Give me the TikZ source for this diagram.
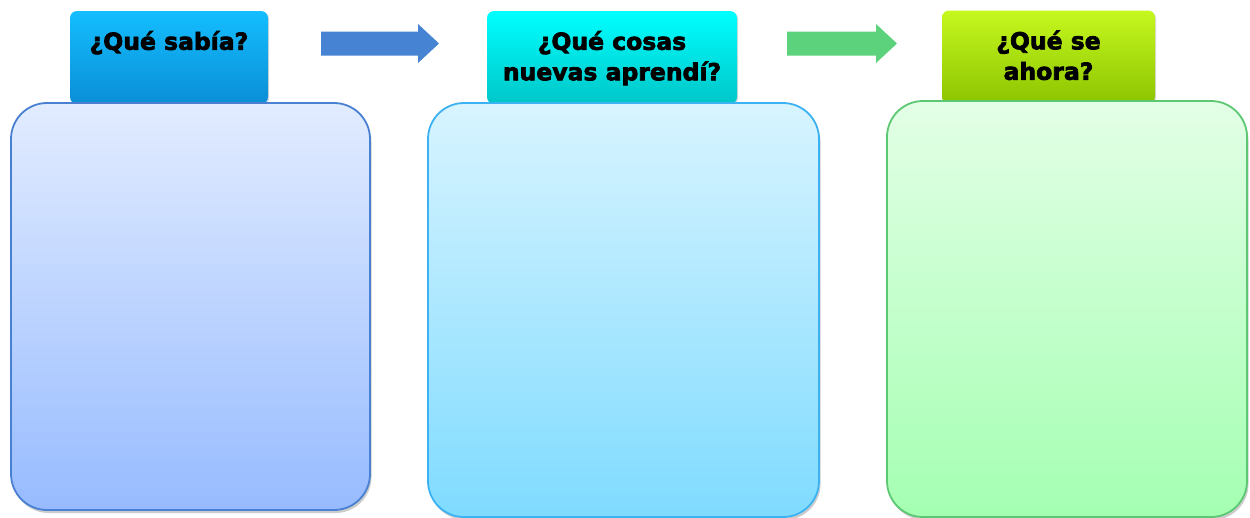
\documentclass[tikz,border=0pt]{standalone}
\usepackage{fontspec}
\setmainfont{DejaVu Sans}
\newfontfamily\heavyfont[FakeBold=2.8]{DejaVu Sans Bold}
\usetikzlibrary{positioning,shadows}
\definecolor{hdrAtop}{HTML}{14BEFF}
\definecolor{hdrAbot}{HTML}{0A8ED6}
\definecolor{hdrBtop}{HTML}{00FFFF}
\definecolor{hdrBbot}{HTML}{00C6C8}
\definecolor{hdrCtop}{HTML}{C6F81E}
\definecolor{hdrCbot}{HTML}{8CC400}
\definecolor{boxAtop}{HTML}{E2ECFF}
\definecolor{boxAbot}{HTML}{97BBFF}
\definecolor{boxAline}{HTML}{4A80D2}
\definecolor{boxBtop}{HTML}{D8F4FF}
\definecolor{boxBbot}{HTML}{7FDBFF}
\definecolor{boxBline}{HTML}{3DB2F2}
\definecolor{boxCtop}{HTML}{E3FFE6}
\definecolor{boxCbot}{HTML}{A4FFB2}
\definecolor{boxCline}{HTML}{5DC873}
\definecolor{arrA}{HTML}{4683D3}
\definecolor{arrB}{HTML}{5BD27B}
\tikzset{
hdr/.style={
  rectangle,
  rounded corners=7pt,
  minimum height=93pt,
  inner sep=0pt,
  drop shadow={shadow xshift=1pt,shadow yshift=-1pt,opacity=0.3}
  },
body/.style={
  rectangle,
  rounded corners=36pt,
  line width=1.8pt,
  inner sep=0pt,
  drop shadow={shadow xshift=1.5pt,shadow yshift=-3pt,opacity=0.4}
  },
hdrtext/.style={
  font=\heavyfont\fontsize{23.5}{30.5}\selectfont,
  align=center,
  inner sep=0pt,
  anchor=north
  },
blockarr/.style={
  insert path={++(0,-12) -- ++(#1-21,0) -- ++(0,-7.5) -- ++(21,19.5)
    -- ++(-21,19.5) -- ++(0,-7.5) -- ++(-#1+21,0) -- cycle}
  }
}

\begin{document}
\begin{tikzpicture}[x=1pt,y=-1pt]
\useasboundingbox (0,0) rectangle (1250,517);

% headers
\node[hdr,minimum width=198pt,top color=hdrAtop,bottom color=hdrAbot] (hdrA) at (169,57.5) {};
\node[hdr,minimum width=250pt,top color=hdrBtop,bottom color=hdrBbot] (hdrB) at (612,57.5) {};
\node[hdr,minimum width=213pt,top color=hdrCtop,bottom color=hdrCbot] (hdrC) at (1048.5,57) {};

\node[hdrtext,below=20pt of hdrA.north] (tA) {¿Qué sabía?};
\node[hdrtext,below=20pt of hdrB.north] (tB) {¿Qué cosas\\nuevas aprendí?};
\node[hdrtext,below=20pt of hdrC.north] (tC) {¿Qué se\\ahora?};

% bodies
\node[body,minimum width=359pt,minimum height=407pt,
  top color=boxAtop,bottom color=boxAbot,draw=boxAline] (boxA) at (190.5,306.5) {};
\node[body,minimum width=391pt,minimum height=414pt,
  top color=boxBtop,bottom color=boxBbot,draw=boxBline] (boxB) at (623.5,310) {};
\node[body,minimum width=360pt,minimum height=416pt,
  top color=boxCtop,bottom color=boxCbot,draw=boxCline] (boxC) at (1067,309) {};

% arrows
\coordinate (arrAB) at (321,43.5);
\coordinate (arrBC) at (787,43.5);
\fill[arrA] (arrAB) [blockarr=118];
\fill[arrB] (arrBC) [blockarr=110];

\end{tikzpicture}
\end{document}
